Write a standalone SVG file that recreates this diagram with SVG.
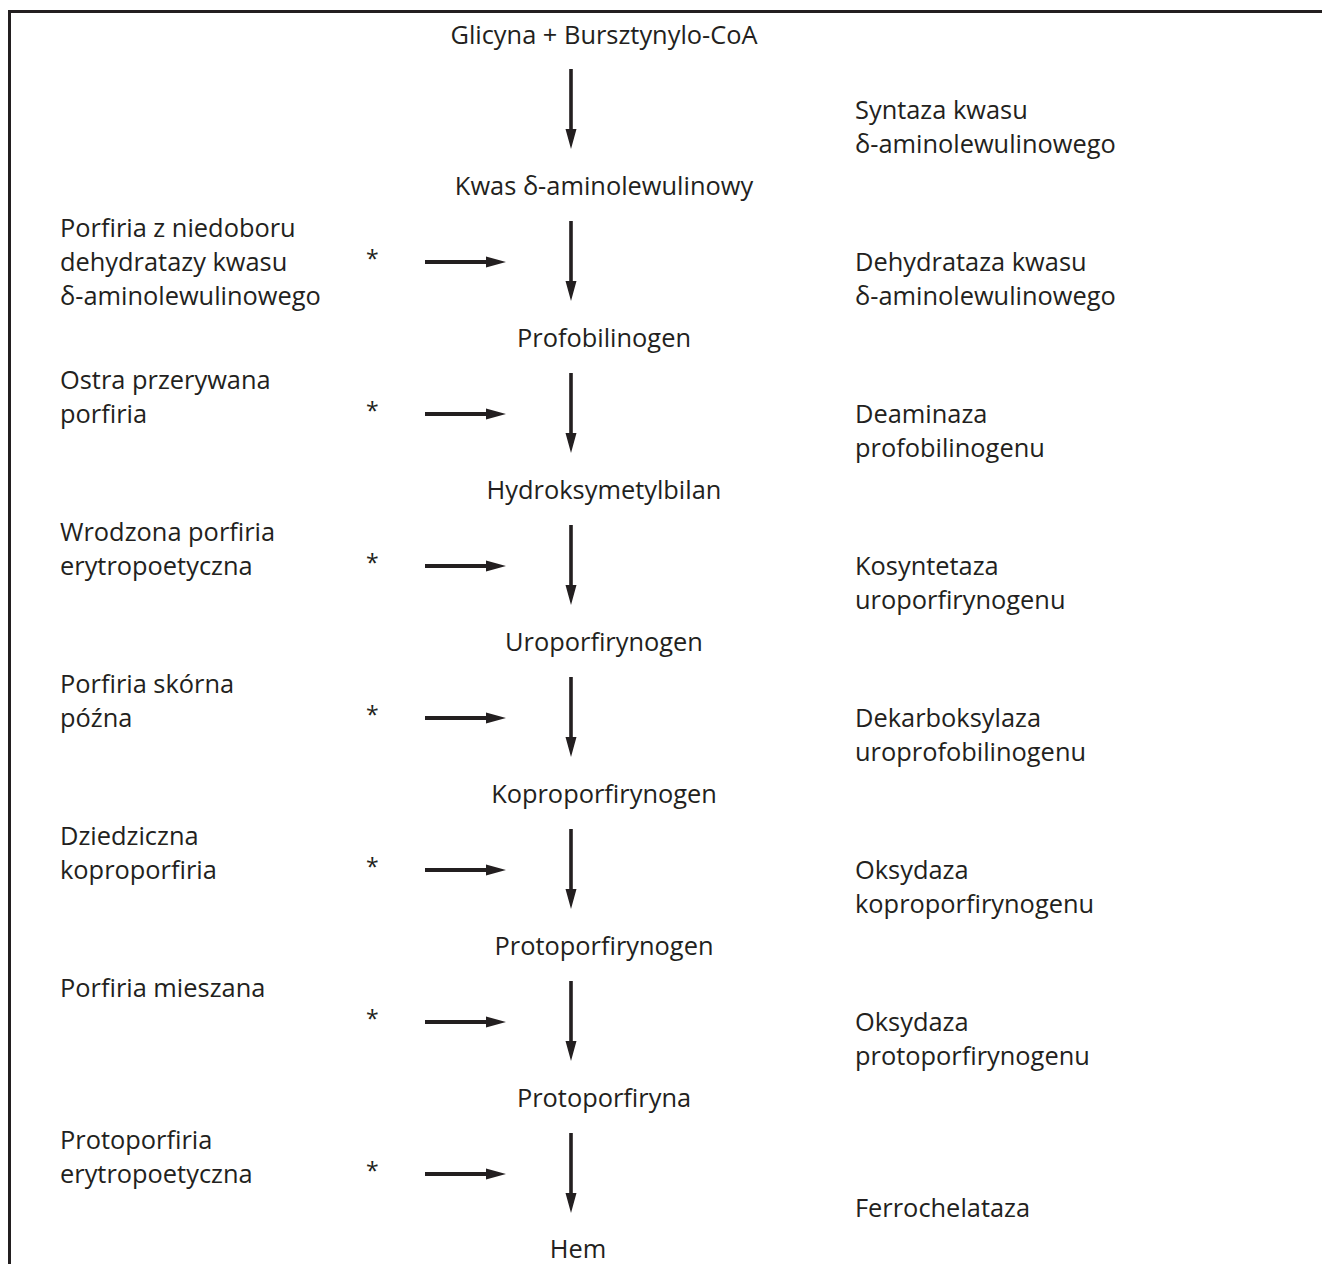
<svg xmlns="http://www.w3.org/2000/svg" xmlns:xlink="http://www.w3.org/1999/xlink" width="1322" height="1264" viewBox="0 0 1322 1264">
  <style>
    text { font-family: "Open Sans", "Noto Sans", "Liberation Sans", sans-serif; font-size: 25.4px; fill: #231f20; }
    .mid { text-anchor: middle; }
    .ast { font-size: 23px; }
    .frame { fill: none; stroke: #231f20; stroke-width: 3; }
    .arrow { fill: #231f20; }
  </style>
  <defs>
    <!-- downward pathway arrow, origin at top of shaft -->
    <path id="down" class="arrow" d="M-1.8,0 H1.8 V60 H5.5 L0,80 L-5.5,60 H-1.8 Z"/>
    <!-- rightward block arrow, origin at left end of shaft -->
    <path id="right" class="arrow" d="M0,-2 H61 V-5.5 L81,0 L61,5.5 V2 H0 Z"/>
  </defs>

  <rect width="1322" height="1264" fill="#ffffff"/>
  <rect class="frame" x="9.5" y="11.5" width="1330" height="1270"/>

  <!-- metabolites -->
  <g id="glicyna"><text class="mid" x="604" y="44">Glicyna + Bursztynylo-CoA</text></g>
  <g id="ala"><text class="mid" x="604" y="195">Kwas δ-aminolewulinowy</text></g>
  <g id="pbg"><text class="mid" x="604" y="347">Profobilinogen</text></g>
  <g id="hmb"><text class="mid" x="604" y="499">Hydroksymetylbilan</text></g>
  <g id="uro"><text class="mid" x="604" y="651">Uroporfirynogen</text></g>
  <g id="kopro"><text class="mid" x="604" y="803">Koproporfirynogen</text></g>
  <g id="protogen"><text class="mid" x="604" y="955">Protoporfirynogen</text></g>
  <g id="proto"><text class="mid" x="604" y="1107">Protoporfiryna</text></g>
  <g id="hem"><text class="mid" x="578" y="1258">Hem</text></g>

  <!-- enzymes -->
  <g id="enz-alas"><text x="855" y="119">Syntaza kwasu</text><text x="855" y="153">δ-aminolewulinowego</text></g>
  <g id="enz-alad"><text x="855" y="271">Dehydrataza kwasu</text><text x="855" y="305">δ-aminolewulinowego</text></g>
  <g id="enz-pbgd"><text x="855" y="423">Deaminaza</text><text x="855" y="457">profobilinogenu</text></g>
  <g id="enz-uros"><text x="855" y="575">Kosyntetaza</text><text x="855" y="609">uroporfirynogenu</text></g>
  <g id="enz-urod"><text x="855" y="727">Dekarboksylaza</text><text x="855" y="761">uroprofobilinogenu</text></g>
  <g id="enz-cpox"><text x="855" y="879">Oksydaza</text><text x="855" y="913">koproporfirynogenu</text></g>
  <g id="enz-ppox"><text x="855" y="1031">Oksydaza</text><text x="855" y="1065">protoporfirynogenu</text></g>
  <g id="enz-fech"><text x="855" y="1217">Ferrochelataza</text></g>

  <!-- diseases -->
  <g id="dis-adp"><text x="60" y="237">Porfiria z niedoboru</text><text x="60" y="271">dehydratazy kwasu</text><text x="60" y="305">δ-aminolewulinowego</text><text class="ast" x="366" y="267">*</text></g>
  <g id="dis-aip"><text x="60" y="389">Ostra przerywana</text><text x="60" y="423">porfiria</text><text class="ast" x="366" y="419">*</text></g>
  <g id="dis-cep"><text x="60" y="541">Wrodzona porfiria</text><text x="60" y="575">erytropoetyczna</text><text class="ast" x="366" y="571">*</text></g>
  <g id="dis-pct"><text x="60" y="693">Porfiria skórna</text><text x="60" y="727">późna</text><text class="ast" x="366" y="723">*</text></g>
  <g id="dis-hcp"><text x="60" y="845">Dziedziczna</text><text x="60" y="879">koproporfiria</text><text class="ast" x="366" y="875">*</text></g>
  <g id="dis-vp"><text x="60" y="997">Porfiria mieszana</text><text class="ast" x="366" y="1027">*</text></g>
  <g id="dis-epp"><text x="60" y="1149">Protoporfiria</text><text x="60" y="1183">erytropoetyczna</text><text class="ast" x="366" y="1179">*</text></g>

  <!-- connectors -->
  <g id="connectors">
    <use xlink:href="#down" x="571" y="69"/>
    <use xlink:href="#down" x="571" y="221"/>
    <use xlink:href="#down" x="571" y="373"/>
    <use xlink:href="#down" x="571" y="525"/>
    <use xlink:href="#down" x="571" y="677"/>
    <use xlink:href="#down" x="571" y="829"/>
    <use xlink:href="#down" x="571" y="981"/>
    <use xlink:href="#down" x="571" y="1133"/>
    <use xlink:href="#right" x="425" y="262"/>
    <use xlink:href="#right" x="425" y="414"/>
    <use xlink:href="#right" x="425" y="566"/>
    <use xlink:href="#right" x="425" y="718"/>
    <use xlink:href="#right" x="425" y="870"/>
    <use xlink:href="#right" x="425" y="1022"/>
    <use xlink:href="#right" x="425" y="1174"/>
  </g>
</svg>
